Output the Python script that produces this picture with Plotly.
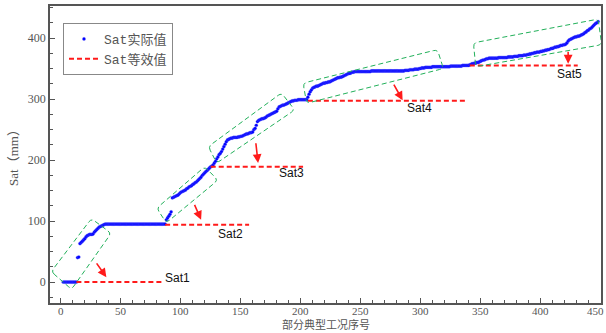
import plotly.graph_objects as go

# ---------------- data ----------------
case_index = list(range(2, 449))
sat_actual = [
    0, 0, 0, 0, 0, 0, 0, 0, 0, 0,
    0, 0, 40, 41, 63, 65, 67, 69, 71, 74,
    76, 77, 78, 78, 78, 79, 82, 84, 86, 88,
    90, 91, 92, 93, 94, 95, 95, 95, 95, 95,
    95, 95, 95, 95, 95, 95, 95, 95, 95, 95,
    95, 95, 95, 95, 95, 95, 95, 95, 95, 95,
    95, 95, 95, 95, 95, 95, 95, 95, 95, 95,
    95, 95, 95, 95, 95, 95, 95, 95, 95, 95,
    95, 95, 95, 95, 95, 95, 102, 105, 108, 111,
    115, 138, 139, 140, 141, 142, 143, 145, 147, 148,
    149, 150, 151, 153, 154, 156, 157, 158, 160, 161,
    163, 164, 166, 168, 170, 172, 175, 177, 179, 181,
    183, 185, 187, 189, 190, 192, 195, 198, 202, 205,
    209, 211, 214, 218, 222, 226, 230, 233, 234, 235,
    236, 236, 237, 237, 237, 237, 238, 238, 239, 239,
    240, 241, 242, 243, 243, 244, 245, 245, 246, 250,
    252, 257, 263, 265, 266, 267, 268, 268, 269, 270,
    272, 273, 274, 275, 276, 277, 278, 279, 280, 284,
    287, 288, 289, 290, 290, 291, 292, 293, 294, 295,
    296, 297, 297, 298, 298, 298, 299, 299, 299, 299,
    299, 299, 299, 299, 303, 308, 312, 315, 318, 319,
    320, 321, 321, 322, 323, 324, 325, 326, 326, 327,
    327, 328, 328, 329, 330, 331, 332, 333, 334, 335,
    335, 336, 336, 337, 338, 339, 340, 341, 342, 342,
    343, 344, 344, 345, 345, 345, 345, 345, 345, 345,
    345, 345, 345, 345, 345, 345, 345, 346, 346, 346,
    346, 346, 346, 346, 346, 346, 346, 346, 346, 346,
    346, 346, 346, 346, 346, 346, 346, 346, 346, 346,
    346, 346, 346, 346, 346, 347, 347, 347, 347, 348,
    348, 348, 348, 349, 349, 349, 349, 350, 350, 351,
    351, 351, 352, 352, 352, 352, 352, 352, 353, 353,
    353, 353, 353, 353, 353, 353, 353, 353, 353, 353,
    353, 353, 353, 354, 354, 354, 354, 354, 354, 354,
    354, 354, 354, 355, 355, 355, 355, 355, 355, 356,
    357, 358, 358, 359, 359, 360, 360, 361, 362, 363,
    364, 364, 365, 366, 366, 367, 367, 367, 367, 367,
    367, 367, 367, 368, 368, 368, 368, 368, 368, 368,
    368, 369, 369, 369, 369, 369, 370, 370, 370, 370,
    371, 371, 371, 371, 372, 372, 372, 373, 373, 374,
    374, 375, 375, 376, 376, 377, 377, 377, 378, 378,
    379, 379, 380, 380, 381, 381, 382, 383, 383, 384,
    385, 385, 386, 386, 387, 388, 388, 389, 389, 390,
    392, 395, 397, 398, 399, 400, 401, 402, 402, 403,
    403, 404, 405, 406, 407, 409, 410, 412, 413, 415,
    416, 418, 420, 422, 424, 425, 427,
]

sat_names = ["Sat1", "Sat2", "Sat3", "Sat4", "Sat5"]
sat_equiv = [0, 94, 189, 297, 355]
sat_start = [13, 87, 125, 206, 341]
sat_end = [85, 157, 202, 338, 431]

x_tick_vals = [0, 50, 100, 150, 200, 250, 300, 350, 400, 450]
x_tick_text = ["0", "50", "100", "150", "200", "250", "300", "350", "400", "450"]
x_title = "部分典型工况序号"
y_title = "Sat（mm）"

# annotation geometry (data coordinates)
label_pos = [(85, 7), (129, 79), (180, 179), (287, 285), (412, 341)]
arrow_tail = [(29, 33), (111, 129), (162.5, 230), (277, 326), (423, 380)]
arrow_head = [(38, 8), (117, 102), (164.5, 195), (285, 298), (423, 358)]
boxes = [
    [(-8, 17), (25.5, 104), (42, 80), (9, -12)],
    [(80, 121), (120, 189), (131, 167), (88, 97)],
    [(123, 222), (184, 310), (195, 282), (130, 195)],
    [(202, 326), (314, 381), (319, 350), (205, 293)],
    [(344, 392), (448, 431), (451, 389), (346, 353)],
]

X_RANGE = [-9, 450.4]
Y_RANGE = [-34.4, 452.5]
W, H = 606, 333
M = dict(l=50, r=5, t=6, b=30)
PLOT_H = H - M["t"] - M["b"]
SX = (W - M["l"] - M["r"]) / (X_RANGE[1] - X_RANGE[0])
SY = PLOT_H / (Y_RANGE[1] - Y_RANGE[0])


def rounded_path(pts, r=4.0):
    # work in pixel space for uniform rounding, output in data space
    P = [(x * SX, y * SY) for x, y in pts]
    n = len(P)
    segs = []
    for i in range(n):
        px, py = P[i]
        ax, ay = P[i - 1]
        bx, by = P[(i + 1) % n]
        la = ((ax - px) ** 2 + (ay - py) ** 2) ** 0.5
        lb = ((bx - px) ** 2 + (by - py) ** 2) ** 0.5
        s = (px + r * (ax - px) / la, py + r * (ay - py) / la)
        e = (px + r * (bx - px) / lb, py + r * (by - py) / lb)
        segs.append((s, (px, py), e))
    d = ""
    for i, (s, c, e) in enumerate(segs):
        cmd = "M" if i == 0 else "L"
        d += f"{cmd}{s[0]/SX},{s[1]/SY} Q{c[0]/SX},{c[1]/SY} {e[0]/SX},{e[1]/SY} "
    d += "Z"
    return d


fig = go.Figure()

fig.add_trace(go.Scatter(
    x=case_index, y=sat_actual, mode="markers", name="Sat实际值",
    marker=dict(color="#0000ff", size=3.2,
                line=dict(color="rgba(110,110,255,0.35)", width=0.8)),
))

for i in range(len(sat_names)):
    fig.add_trace(go.Scatter(
        x=[sat_start[i], sat_end[i]], y=[sat_equiv[i], sat_equiv[i]],
        mode="lines", name="Sat等效值", showlegend=(i == 0),
        line=dict(color="#ff1a1a", width=2, dash="5px,3px"),
    ))

shapes = []
for b in boxes:
    shapes.append(dict(type="path", path=rounded_path(b), xref="x", yref="y",
                       line=dict(color="#22b05a", width=1, dash="5px,3px"),
                       fillcolor="rgba(0,0,0,0)", layer="above"))

annotations = []
for (tx, ty), (hx, hy) in zip(arrow_tail, arrow_head):
    annotations.append(dict(x=hx, y=hy, ax=tx, ay=ty, xref="x", yref="y",
                            axref="x", ayref="y", text="", showarrow=True,
                            arrowhead=2, arrowsize=1.1, arrowwidth=1.6,
                            arrowcolor="#ff1a1a"))
for name, (lx, ly) in zip(sat_names, label_pos):
    annotations.append(dict(x=lx, y=ly, xref="x", yref="y", text=name,
                            showarrow=False, xanchor="left", yanchor="middle",
                            font=dict(family="Liberation Sans, Arial", size=12,
                                      color="#111111")))
# x tick labels, set tight under the axis line (last one kept inside the page)
for k, (v, t) in enumerate(zip(x_tick_vals, x_tick_text)):
    last = k == len(x_tick_vals) - 1
    annotations.append(dict(x=v, y=-1.0 / PLOT_H, xref="x", yref="paper", text=t,
                            showarrow=False, xanchor="right" if last else "center",
                            xshift=4 if last else 0,
                            yanchor="top", borderpad=0,
                            font=dict(family="Liberation Serif, DejaVu Serif",
                                      size=11, color="#555555")))
# x axis title, flush with the bottom edge
annotations.append(dict(x=0.5, y=-(M["b"] - 0.2) / PLOT_H, xref="paper", yref="paper",
                        text=x_title, showarrow=False, xanchor="center",
                        yanchor="bottom", borderpad=0,
                        font=dict(family="Noto Sans CJK SC", size=11, color="#555555")))

axis_common = dict(
    showline=True, linecolor="#555555", linewidth=1.5, mirror=True,
    ticks="inside", ticklen=5, tickcolor="#555555", tickwidth=1,
    showgrid=False, zeroline=False, automargin=False,
)

fig.update_layout(
    width=W, height=H, margin=M,
    paper_bgcolor="white", plot_bgcolor="white",
    shapes=shapes, annotations=annotations,
    xaxis=dict(range=X_RANGE, tickvals=x_tick_vals, showticklabels=False,
               minor=dict(dtick=10, tick0=0, ticks="inside", ticklen=3,
                          tickcolor="#555555"),
               **axis_common),
    yaxis=dict(range=Y_RANGE, dtick=100, tick0=0,
               minor=dict(dtick=25, tick0=0, ticks="inside", ticklen=3,
                          tickcolor="#555555"),
               tickfont=dict(family="Liberation Serif, DejaVu Serif",
                             size=12, color="#555555"),
               title=dict(text=y_title, standoff=6,
                          font=dict(family="Liberation Serif, Noto Sans CJK SC", size=13,
                                    color="#555555")),
               **axis_common),
    legend=dict(x=0.0236, y=0.943, xanchor="left", yanchor="top",
                bordercolor="#888888", borderwidth=1, bgcolor="white",
                font=dict(family="Liberation Mono, Noto Sans CJK SC", size=13,
                          color="#555555"),
                itemwidth=30, tracegroupgap=0),
    showlegend=True,
)

fig.write_html("out.html")
